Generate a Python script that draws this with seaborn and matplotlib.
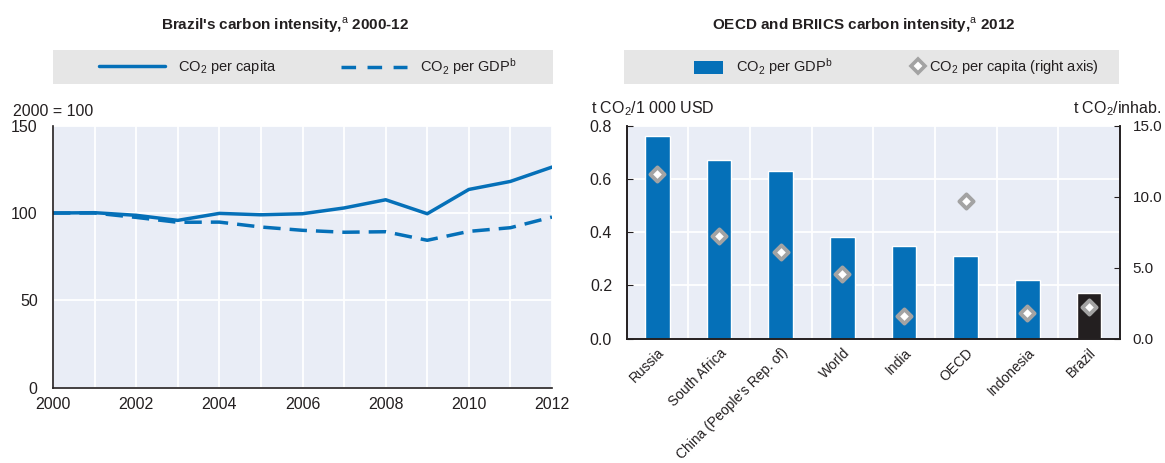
import numpy as np
import pandas as pd
import matplotlib
matplotlib.use("Agg")
import matplotlib.pyplot as plt
import seaborn as sns
from matplotlib.patches import Rectangle
from matplotlib.lines import Line2D
from matplotlib.ticker import FixedLocator, FormatStrFormatter

# data: left panel (index, 2000 = 100)
years = list(range(2000, 2013))
co2_per_capita = [100, 100.2, 98.7, 95.8, 99.8, 99.0, 99.6, 102.9, 107.6, 99.6, 113.5, 118.1, 126.3]
co2_per_gdp = [100, 100, 97.5, 94.7, 94.8, 92.0, 90.1, 89.0, 89.3, 84.4, 89.5, 91.6, 97.7]

# data: right panel (2012)
countries = ["Russia", "South Africa", "China (People's Rep. of)", "World", "India", "OECD",
             "Indonesia", "Brazil"]
gdp_intensity = [0.761, 0.670, 0.631, 0.381, 0.349, 0.310, 0.219, 0.172]
capita_intensity = [11.6, 7.23, 6.08, 4.53, 1.60, 9.72, 1.78, 2.23]

BLUE = "#0570B8"
DARK = "#231F20"
PANEL = "#E9EDF6"
LEGBG = "#E6E6E6"
DIAMOND = "#A3A3A3"
W, H = 1165, 463

sns.set_style("white")
plt.rcParams["font.family"] = ["Liberation Sans", "DejaVu Sans"]
plt.rcParams["font.size"] = 10.5
plt.rcParams["mathtext.fontset"] = "custom"
plt.rcParams["mathtext.sf"] = "Liberation Sans"
plt.rcParams["text.color"] = DARK
plt.rcParams["axes.labelcolor"] = DARK
plt.rcParams["xtick.color"] = DARK
plt.rcParams["ytick.color"] = DARK

fig = plt.figure(figsize=(W / 100, H / 100), dpi=100)


def px_box(x0, y0, x1, y1):
    # pixel box (top-left origin) -> figure fraction rect
    return [x0 / W, 1 - y1 / H, (x1 - x0) / W, (y1 - y0) / H]


# ---- left panel ----
ax1 = fig.add_axes(px_box(53, 125.7, 552, 387.7))
ax1.set_facecolor(PANEL)
df_line = pd.DataFrame({"year": years + years,
                        "value": co2_per_capita + co2_per_gdp,
                        "series": ["capita"] * len(years) + ["gdp"] * len(years)})
sns.lineplot(data=df_line, x="year", y="value", style="series",
             dashes={"capita": "", "gdp": (5, 2.6)}, color=BLUE, linewidth=2.5,
             legend=False, ax=ax1)
ax1.set_xlim(2000, 2012)
ax1.set_ylim(0, 150)
ax1.set_xticks(range(2000, 2013, 2))
ax1.xaxis.set_minor_locator(FixedLocator(years))
ax1.set_yticks([0, 50, 100, 150])
ax1.grid(True, which="both", color="white", linewidth=1.3)
ax1.set_axisbelow(True)
ax1.tick_params(axis="both", which="both", direction="in", length=4, width=1, labelsize=11.5)
ax1.tick_params(axis="x", pad=6.5)
ax1.tick_params(axis="y", pad=11)
ax1.set_xlabel("")
ax1.set_ylabel("")
for s in ["top", "right"]:
    ax1.spines[s].set_visible(False)
for s in ["left", "bottom"]:
    ax1.spines[s].set_color(DARK)
    ax1.spines[s].set_linewidth(1.2)
fig.text(13 / W, 1 - 112 / H, "2000 = 100", fontsize=11.5, va="center")

# ---- right panel ----
ax2 = fig.add_axes(px_box(626.6, 125.7, 1120, 338.7))
ax2.set_facecolor(PANEL)
df_bar = pd.DataFrame({"country": countries, "gdp": gdp_intensity, "capita": capita_intensity})
bar_colors = [BLUE] * (len(countries) - 1) + [DARK]
sns.barplot(data=df_bar, x="country", y="gdp", hue="country", palette=bar_colors,
            width=0.4, legend=False, ax=ax2, saturation=1)
ax2.set_xlim(-0.5, len(countries) - 0.5)
ax2.set_ylim(0, 0.8)
ax2.set_yticks([0, 0.2, 0.4, 0.6, 0.8])
ax2.yaxis.set_major_formatter(FormatStrFormatter("%.1f"))
ax2.xaxis.set_minor_locator(FixedLocator(np.arange(0.5, len(countries) - 0.5, 1)))
ax2.grid(True, axis="y", color="white", linewidth=1.3)
ax2.grid(True, axis="x", which="minor", color="white", linewidth=1.3)
ax2.set_axisbelow(True)
ax2.tick_params(axis="x", which="major", length=0, pad=5)
ax2.tick_params(axis="x", which="minor", direction="in", length=4)
ax2.tick_params(axis="y", direction="in", length=4, labelsize=11.5, pad=10.5)
ax2.set_xticks(range(len(countries)))
ax2.set_xticklabels(countries, rotation=45, ha="right", rotation_mode="anchor", fontsize=10)
ax2.set_xlabel("")
ax2.set_ylabel("")
ax2.spines["top"].set_visible(False)
for s in ["left", "bottom", "right"]:
    ax2.spines[s].set_color(DARK)
    ax2.spines[s].set_linewidth(1.2)

ax3 = ax2.twinx()
sns.scatterplot(data=df_bar, x="country", y="capita", marker="D", s=52,
                color="white", edgecolor=DIAMOND, linewidth=2.8, ax=ax3, zorder=5)
ax3.set_ylim(0, 15)
ax3.set_yticks([0, 5, 10, 15])
ax3.yaxis.set_major_formatter(FormatStrFormatter("%.1f"))
ax3.tick_params(axis="y", direction="in", length=4, labelsize=11, pad=9)
ax3.set_ylabel("")
ax3.set_xlabel("")
ax3.spines["top"].set_visible(False)
for s in ["left", "bottom", "right"]:
    ax3.spines[s].set_color(DARK)
    ax3.spines[s].set_linewidth(1.2)
fig.text(591 / W, 1 - 109 / H, "t CO$\\mathregular{_2}$/1 000 USD", fontsize=11.5, va="center")
fig.text(1161 / W, 1 - 109 / H, "t CO$\\mathregular{_2}$/inhab.", fontsize=11.5, va="center", ha="right")

# ---- titles ----
fig.text(285.5 / W, 1 - 25 / H, "Brazil's carbon intensity,$^\\mathsf{a}$ 2000-12",
         fontsize=11, fontweight="bold", ha="center", va="center")
fig.text(864 / W, 1 - 25 / H, "OECD and BRIICS carbon intensity,$^\\mathsf{a}$ 2012",
         fontsize=11, fontweight="bold", ha="center", va="center")

# ---- legend boxes ----
for x0, x1 in [(53, 553), (624, 1119)]:
    r = px_box(x0, 50, x1, 84)
    fig.patches.append(Rectangle((r[0], r[1]), r[2], r[3], transform=fig.transFigure,
                                 facecolor=LEGBG, edgecolor="none", zorder=0))

leg_y = 1 - 67 / H


def add_entry(handle, label, x_px, hl, pad, hh=0.7):
    leg = fig.legend([handle], [label], loc="center left", bbox_to_anchor=(x_px / W, leg_y),
                     frameon=False, borderpad=0, borderaxespad=0, handlelength=hl,
                     handleheight=hh, handletextpad=pad, fontsize=10.5)
    return leg


add_entry(Line2D([], [], color=BLUE, linewidth=2.5), "CO$\\mathregular{_2}$ per capita", 99, 4.5, 0.9)
add_entry(Line2D([], [], color=BLUE, linewidth=2.5, linestyle=(0, (4.2, 3.3))),
          "CO$\\mathregular{_2}$ per GDP$\\mathregular{^b}$", 341, 4.5, 0.9)
add_entry(Rectangle((0, 0), 1, 1, facecolor=BLUE, edgecolor="none"),
          "CO$\\mathregular{_2}$ per GDP$\\mathregular{^b}$", 694, 2.0, 0.9, hh=1.0)
add_entry(Line2D([], [], marker="D", linestyle="none", markersize=7, markerfacecolor="white",
                 markeredgecolor=DIAMOND, markeredgewidth=2.6),
          "CO$\\mathregular{_2}$ per capita (right axis)", 910.7, 1.0, 0.25)

fig.savefig("out.png", dpi=100)
